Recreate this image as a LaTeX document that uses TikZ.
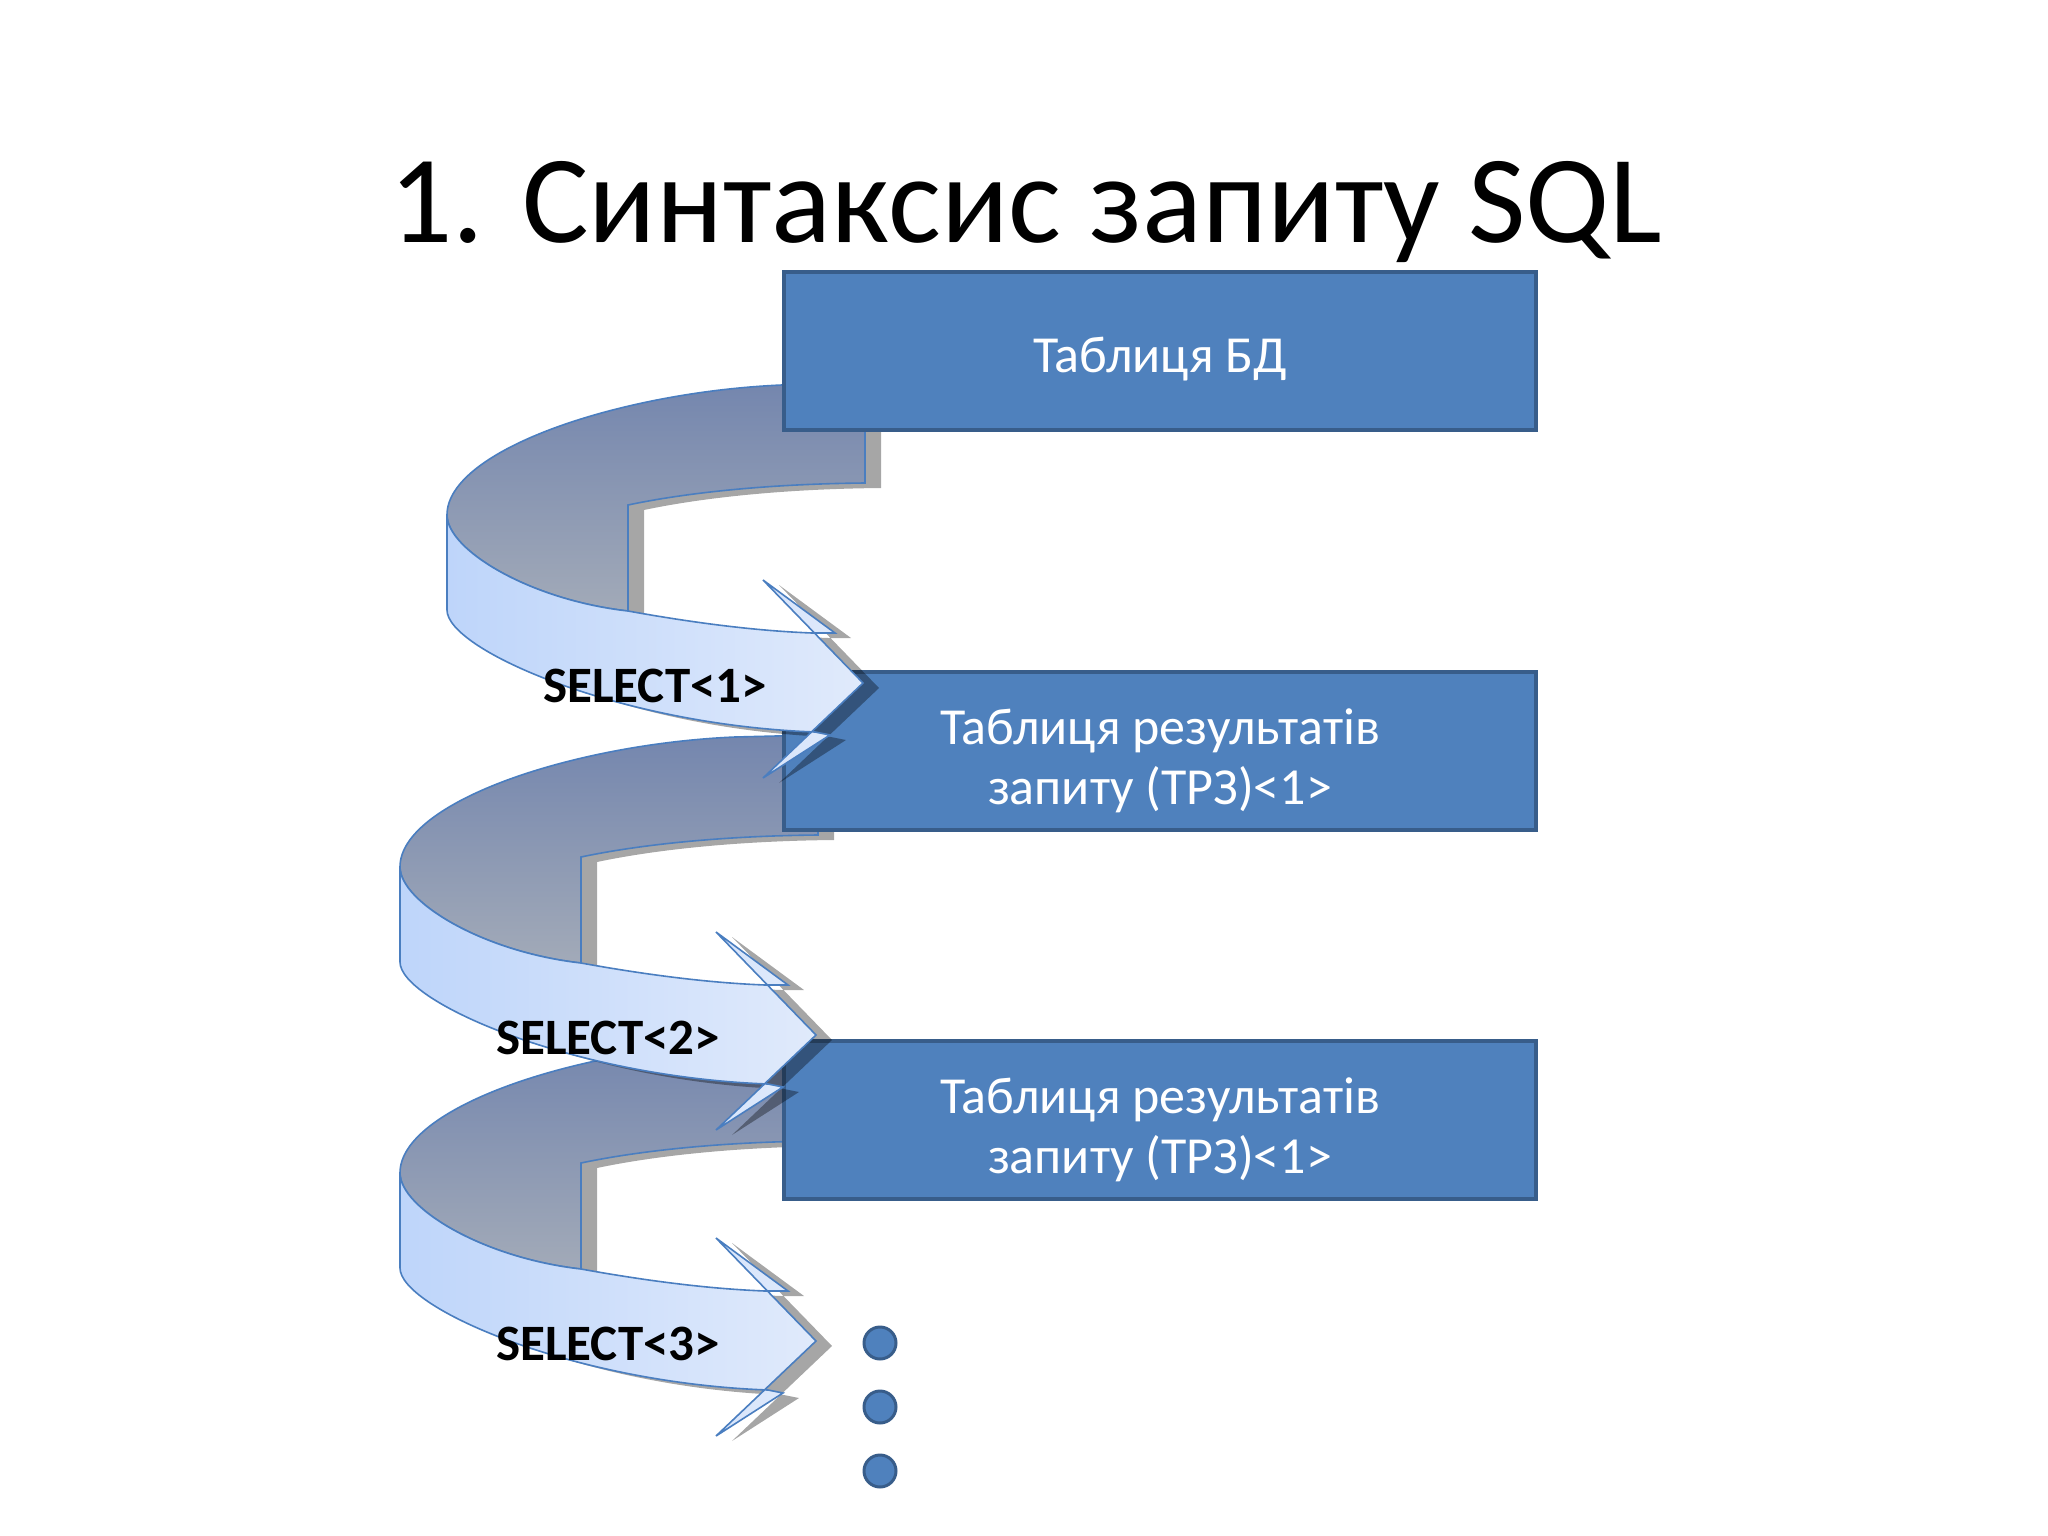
\documentclass[tikz,border=0pt]{standalone}
\usepackage{fontspec}
\setmainfont{Carlito}
\definecolor{boxfill}{RGB}{79,129,189}
\definecolor{boxedge}{RGB}{56,93,138}
\definecolor{ribbonedge}{RGB}{74,126,192}
\definecolor{backtop}{RGB}{116,134,174}
\definecolor{backbot}{RGB}{162,170,184}
\definecolor{fronta}{RGB}{190,213,250}
\definecolor{frontb}{RGB}{224,234,251}
\tikzset{
  tbox/.style={draw=boxedge, line width=4pt, fill=boxfill,
    minimum width=752pt, minimum height=158pt, inner sep=0pt},
  boxtext/.style={text=white, font=\fontsize{52}{60}\selectfont, align=center, inner sep=0pt},
  backface/.style={draw=ribbonedge, line width=1.6pt, top color=backtop, bottom color=backbot},
  frontface/.style={draw=ribbonedge, line width=1.6pt, left color=fronta, right color=frontb},
  shadowfill/.style={fill=black, fill opacity=0.35, draw=none},
  sellabel/.style={font=\fontsize{51}{60}\selectfont\bfseries, anchor=west, inner sep=0pt},
  dotnode/.style={circle, draw=boxedge, line width=3pt, fill=boxfill, minimum size=32pt, inner sep=0pt}
}
\newcommand\ribbonbackpath{(865,483) -- (865,383) -- (782,385) .. controls (620,392) and (447,450) .. (447,515) .. controls (447,550) and (530,600) .. (628,611) -- (628,505) .. controls (680,494) and (760,484) .. (865,483) -- cycle}
\newcommand\ribbonfrontpath{(447,515) -- (447,610) .. controls (447,650) and (620,725) .. (815,732) -- (830,735) -- (763,778) -- (863,683) -- (763,580) -- (835,633) -- (812,633) .. controls (760,631) and (700,624) .. (628,611) .. controls (530,600) and (447,550) .. (447,515) -- cycle}
\newcommand\ribbonback[2]{%
  \begin{scope}[shift={(#1,#2)}]
    \begin{scope}[shift={(16,5)}]
      \fill[shadowfill] \ribbonbackpath;
    \end{scope}
    \path[backface] \ribbonbackpath;
  \end{scope}}
\newcommand\ribbonfrontshadow[2]{%
  \begin{scope}[shift={(#1,#2)}]
    \begin{scope}[shift={(16,5)}]
      \fill[shadowfill] \ribbonfrontpath;
    \end{scope}
  \end{scope}}
\newcommand\ribbonfront[4]{%
  \begin{scope}[shift={(#1,#2)}]
    \path[frontface] \ribbonfrontpath;
    \node[sellabel] (#3) at (543,686) {#4};
  \end{scope}}
\begin{document}
\begin{tikzpicture}[x=1pt,y=-1pt]
  \useasboundingbox (0,0) rectangle (2048,1536);
  \fill[white] (0,0) rectangle (2048,1536);
  \node[font=\fontsize{125}{150}\selectfont, anchor=base] (title) at (1026,242) {1. Синтаксис запиту SQL};
  % lowest ribbon and its box
  \ribbonfrontshadow{-47}{658}
  \ribbonback{-47}{658}
  \node[tbox] (trz2) at (1160,1120) {};
  \node[boxtext] (trz2text) at ([yshift=-10pt]trz2.center) {Таблиця результатів\\запиту (ТРЗ)<1>};
  % middle ribbon and its box
  \ribbonfrontshadow{-47}{352}
  \ribbonback{-47}{352}
  \node[tbox] (trz1) at (1160,751) {};
  \node[boxtext] (trz1text) at ([yshift=-10pt]trz1.center) {Таблиця результатів\\запиту (ТРЗ)<1>};
  % top ribbon and its box
  \ribbonfrontshadow{0}{0}
  \ribbonback{0}{0}
  \node[tbox] (bd) at (1160,351) {};
  \node[boxtext] (bdtext) at ([yshift=-8pt]bd.center) {Таблиця БД};
  % front faces
  \ribbonfront{-47}{658}{sel3}{SELECT<3>}
  \ribbonfront{-47}{352}{sel2}{SELECT<2>}
  \ribbonfront{0}{0}{sel1}{SELECT<1>}
  % dots
  \node[dotnode] (d1) at (880,1343) {};
  \node[dotnode] (d2) at (880,1407) {};
  \node[dotnode] (d3) at (880,1471) {};
\end{tikzpicture}
\end{document}
